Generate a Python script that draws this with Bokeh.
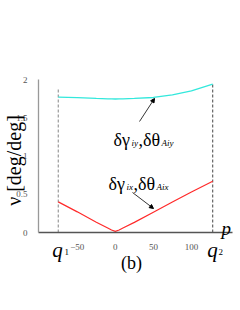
import math
from bokeh.plotting import figure
from bokeh.models import Label, Arrow, NormalHead, FixedTicker, Range1d, LinearAxis
from bokeh.embed import file_html
from bokeh.resources import INLINE

# ---- data ----
p_vals = [-75, -50, -25, -10, -5, 0, 5, 10, 25, 50, 75, 100, 128]
red_vals = [0.40, 0.27, 0.135, 0.058, 0.032, 0.015, 0.032, 0.058, 0.132, 0.265, 0.398, 0.53, 0.67]
cyan_vals = [1.77, 1.762, 1.752, 1.747, 1.746, 1.745, 1.746, 1.748, 1.752, 1.765, 1.80, 1.85, 1.94]
q_pos = [-75, 128]
q_top = [1.89, 1.95]
x_ticks = [-50, 0, 50, 100]
y_ticks = [0, 0.5, 1, 1.5, 2]
y_tick_labels = ["0", "0.5", "1", "1.5", "2"]

X0, X1 = -101, 154
Y0, Y1 = 0, 2
FL, FR, FT, FB = 38, 232, 79, 232  # axis box edges in the picture (px)
W, H = 240, 310


def dx(px):
    return X0 + (px - FL) * (X1 - X0) / (FR - FL)


def dy(py):
    return Y0 + (FB - py) * (Y1 - Y0) / (FB - FT)


SERIF = "Liberation Serif"

p = figure(width=W, height=H, output_backend="svg", toolbar_location=None,
           x_range=Range1d(dx(0), dx(W)), y_range=Range1d(dy(H), dy(0)),
           x_axis_location=None, y_axis_location=None,
           min_border=0)
p.grid.visible = False
p.outline_line_color = None

xax = LinearAxis(fixed_location=0, bounds=(X0, X1), ticker=FixedTicker(ticks=x_ticks))
yax = LinearAxis(fixed_location=X0, bounds=(Y0, Y1), ticker=FixedTicker(ticks=y_ticks))
yax.major_label_overrides = {t: l for t, l in zip(y_ticks, y_tick_labels)}
for ax in (xax, yax):
    ax.major_tick_line_color = None
    ax.minor_tick_line_color = None
    ax.major_label_text_font = SERIF
    ax.major_label_text_font_size = "9px"
    ax.major_label_text_color = "#555555"
    ax.major_label_standoff = 5
xax.axis_line_color = "#555555"
yax.axis_line_color = "#999999"
xax.axis_line_width = 1.3
yax.axis_line_width = 1.3
p.add_layout(xax, "below")
p.add_layout(yax, "left")

# dashed boundary lines
p.line([q_pos[0], q_pos[0]], [0, q_top[0]], line_color="#999999", line_dash="3 2", line_width=1.2)
p.line([q_pos[1], q_pos[1]], [0, q_top[1]], line_color="#444444", line_dash="3 2", line_width=1.0)

# curves
p.line(p_vals, cyan_vals, line_color="#33e8dc", line_width=1.3)
p.line(p_vals, red_vals, line_color="#ff2a2a", line_width=1.2)


def lab(text, px, py, size, style="normal", align="left", baseline="alphabetic", angle=0, color="black"):
    p.add_layout(Label(x=dx(px), y=dy(py), text=text, text_font=SERIF,
                       text_font_size=f"{size}px", text_font_style=style,
                       text_align=align, text_baseline=baseline, angle=angle,
                       text_color=color))


# y title
lab("ν [deg/deg]", 13, 160, 20, align="center", baseline="middle", angle=math.pi / 2)
# q labels, p, (b)
lab("q", 57, 249, 21, style="italic", align="center")
lab("1", 64, 251, 9)
lab("q", 212, 249, 21, style="italic", align="center")
lab("2", 218, 251, 9)
lab("p", 221, 228, 19, style="italic")
lab("(b)", 131, 262, 18, align="center")

# annotations
lab("δγ", 113, 139, 18)
lab("iy", 131, 142, 9, style="italic")
lab(",δθ", 138, 139, 18)
lab("Aiy", 161, 142, 9, style="italic")

lab("δγ", 108, 183, 18)
lab("ix", 126, 186, 9, style="italic")
lab(",δθ", 133, 183, 18)
lab("Aix", 156, 186, 9, style="italic")

p.add_layout(Arrow(x_start=dx(139), y_start=dy(121), x_end=dx(154), y_end=dy(98),
                   line_width=0.8, line_color="black",
                   end=NormalHead(size=4, fill_color="black", line_color="black")))
p.add_layout(Arrow(x_start=dx(132), y_start=dy(192), x_end=dx(153), y_end=dy(208),
                   line_width=0.8, line_color="black",
                   end=NormalHead(size=4, fill_color="black", line_color="black")))

open("out.html", "w").write(file_html(p, INLINE))
